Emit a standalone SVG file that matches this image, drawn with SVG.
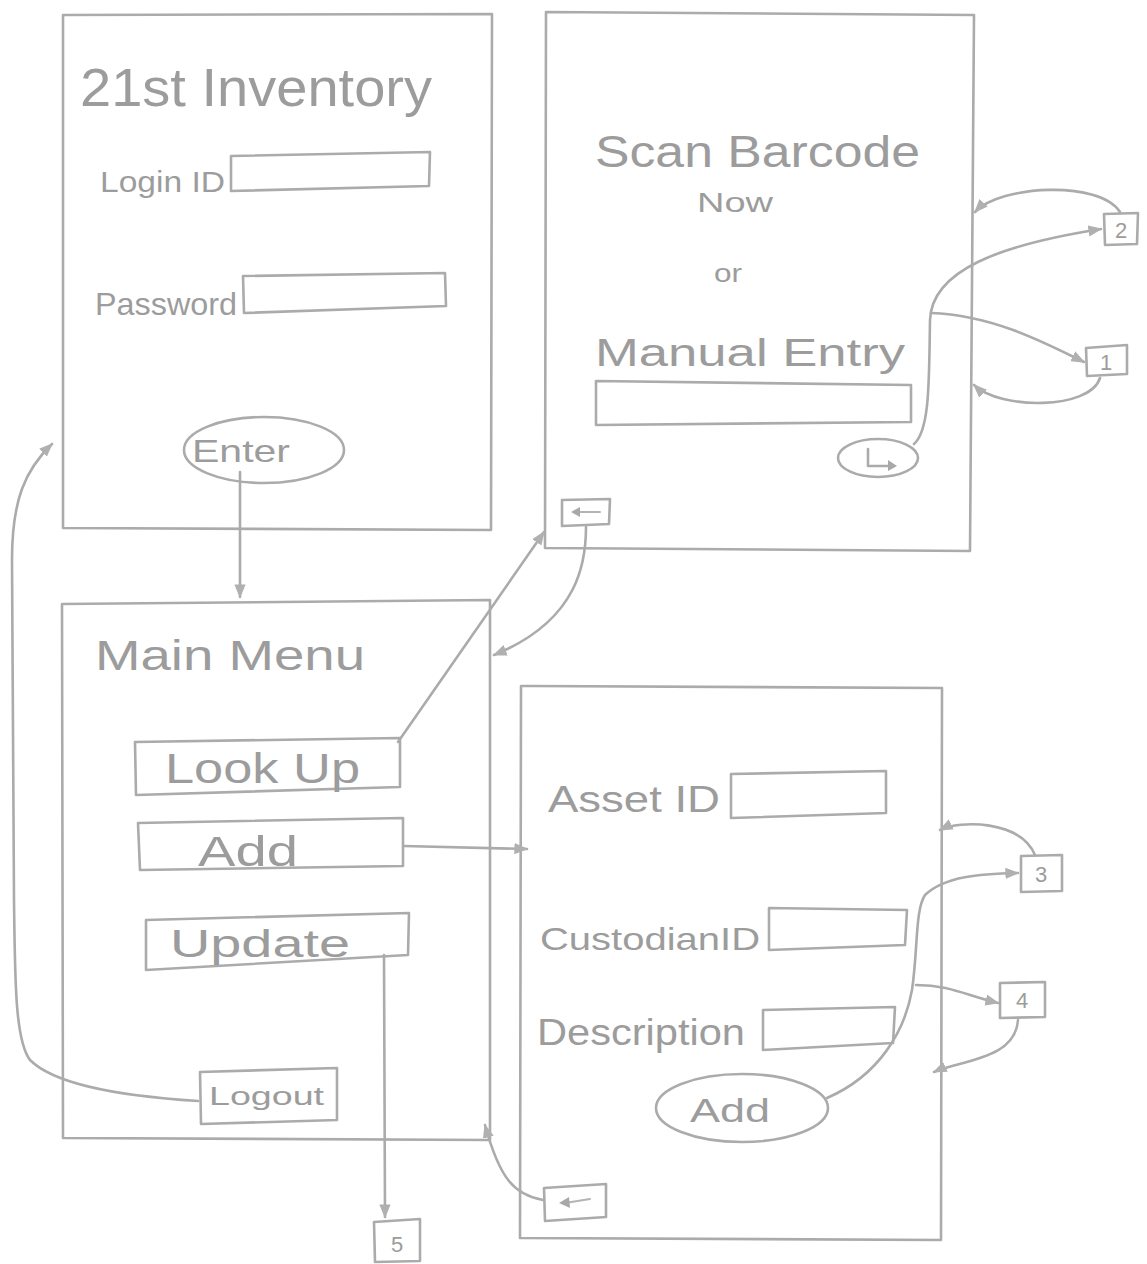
<svg xmlns="http://www.w3.org/2000/svg" width="1147" height="1264" viewBox="0 0 1147 1264">
<defs>
<style>
.ln{fill:none;stroke:#ababab;stroke-width:2.6;stroke-linecap:round;stroke-linejoin:round}
.thin{fill:none;stroke:#b4b4b4;stroke-width:2;stroke-linecap:round;stroke-linejoin:round}
.t{fill:#9c9c9c;font-family:"Liberation Sans","DejaVu Sans",sans-serif;font-weight:normal}
.num{fill:#9c9c9c;font-family:"Liberation Sans",sans-serif;font-size:22px;text-anchor:middle}
</style>
<marker id="ahb" viewBox="0 0 10 10" refX="9" refY="5" markerWidth="14" markerHeight="14" orient="auto" markerUnits="userSpaceOnUse">
<path d="M0,1 L10,5 L0,9 z" fill="#b0b0b0"/>
</marker>
</defs>
<rect width="1147" height="1264" fill="#ffffff"/>

<g id="login-screen">
<path class="ln" d="M63,15 L492,14 L491,530 L63,528 Z"/>
<text class="t" x="80" y="106" font-size="54" textLength="352" lengthAdjust="spacingAndGlyphs">21st Inventory</text>
<text class="t" x="100" y="192" font-size="30" textLength="125" lengthAdjust="spacingAndGlyphs">Login ID</text>
<path class="ln" d="M231,156 L430,152 L429,186 L231,191 Z"/>
<text class="t" x="95" y="315" font-size="32" textLength="142" lengthAdjust="spacingAndGlyphs">Password</text>
<path class="ln" d="M243,276 L445,273 L446,306 L244,313 Z"/>
<ellipse class="ln" cx="264" cy="450" rx="80" ry="33"/>
<text class="t" x="192" y="462" font-size="32" textLength="98" lengthAdjust="spacingAndGlyphs">Enter</text>
</g>

<g id="scan-screen">
<path class="ln" d="M546,12 L974,15 L970,551 L545,548 Z"/>
<text class="t" x="595" y="167" font-size="44" textLength="325" lengthAdjust="spacingAndGlyphs">Scan Barcode</text>
<text class="t" x="697" y="212" font-size="28" textLength="76" lengthAdjust="spacingAndGlyphs">Now</text>
<text class="t" x="714" y="282" font-size="26" textLength="28" lengthAdjust="spacingAndGlyphs">or</text>
<text class="t" x="595" y="366" font-size="38" textLength="310" lengthAdjust="spacingAndGlyphs">Manual Entry</text>
<path class="ln" d="M596,381 L911,385 L911,422 L596,425 Z"/>
<ellipse class="ln" cx="878" cy="458" rx="40" ry="19"/>
<path class="ln" d="M868,449 L868,466 L892,466"/>
<path d="M888,460 L897,466 L888,471 Z" fill="#a8a8a8"/>
<path class="ln" d="M562,500 L610,499 L609,524 L562,526 Z"/>
<path class="thin" d="M600,512 L576,512"/>
<path d="M580,507 L571,512 L580,517 Z" fill="#a8a8a8"/>
</g>

<g id="main-menu">
<path class="ln" d="M62,604 L490,600 L490,1140 L63,1138 Z"/>
<text class="t" x="95" y="670" font-size="42" textLength="270" lengthAdjust="spacingAndGlyphs">Main Menu</text>
<path class="ln" d="M135,742 L400,738 L400,787 L136,795 Z"/>
<text class="t" x="165" y="783" font-size="42" textLength="195" lengthAdjust="spacingAndGlyphs">Look Up</text>
<path class="ln" d="M138,823 L403,818 L403,866 L140,870 Z"/>
<text class="t" x="198" y="866" font-size="42" textLength="100" lengthAdjust="spacingAndGlyphs">Add</text>
<path class="ln" d="M146,920 L409,913 L408,955 L146,970 Z"/>
<text class="t" x="170" y="957" font-size="38" textLength="180" lengthAdjust="spacingAndGlyphs">Update</text>
<path class="ln" d="M200,1072 L337,1068 L337,1120 L201,1124 Z"/>
<text class="t" x="209" y="1105" font-size="26" textLength="115" lengthAdjust="spacingAndGlyphs">Logout</text>
</g>

<g id="add-screen">
<path class="ln" d="M531,686 L942,688 L941,1240 L520,1238 L521,686 Z"/>
<text class="t" x="548" y="812" font-size="36" textLength="172" lengthAdjust="spacingAndGlyphs">Asset ID</text>
<path class="ln" d="M731,774 L886,771 L886,813 L731,818 Z"/>
<text class="t" x="540" y="950" font-size="32" textLength="220" lengthAdjust="spacingAndGlyphs">CustodianID</text>
<path class="ln" d="M769,908 L907,910 L905,945 L769,950 Z"/>
<text class="t" x="537" y="1045" font-size="36" textLength="208" lengthAdjust="spacingAndGlyphs">Description</text>
<path class="ln" d="M763,1010 L895,1007 L893,1043 L763,1050 Z"/>
<ellipse class="ln" cx="742" cy="1108" rx="86" ry="34"/>
<text class="t" x="690" y="1122" font-size="34" textLength="80" lengthAdjust="spacingAndGlyphs">Add</text>
<path class="ln" d="M544,1188 L606,1184 L606,1217 L545,1221 Z"/>
<path class="thin" d="M590,1199 L565,1203"/>
<path d="M569,1197 L559,1203 L570,1208 Z" fill="#a8a8a8"/>
</g>

<g id="box-1"><path class="ln" d="M1086,348 L1127,345 L1127,374 L1087,376 Z"/><text class="num" x="1106" y="370">1</text></g>
<g id="box-2"><path class="ln" d="M1104,214 L1138,213 L1137,244 L1105,245 Z"/><text class="num" x="1121" y="238">2</text></g>
<g id="box-3"><path class="ln" d="M1021,856 L1062,855 L1062,891 L1021,892 Z"/><text class="num" x="1041" y="882">3</text></g>
<g id="box-4"><path class="ln" d="M1000,983 L1045,982 L1045,1017 L1000,1018 Z"/><text class="num" x="1022" y="1008">4</text></g>
<g id="box-5"><path class="ln" d="M374,1222 L420,1219 L420,1261 L375,1262 Z"/><text class="num" x="397" y="1252" font-size="26">5</text></g>

<g id="connectors">
<path class="ln" d="M240,472 L240,597" marker-end="url(#ahb)"/>
<path class="ln" d="M198,1101 C150,1098 60,1090 30,1060 C15,1040 15,980 14,900 L12,560 C12,500 25,470 52,444" marker-end="url(#ahb)"/>
<path class="ln" d="M398,742 L544,532" marker-end="url(#ahb)"/>
<path class="ln" d="M586,527 C586,560 580,620 494,655" marker-end="url(#ahb)"/>
<path class="ln" d="M404,846 L527,849" marker-end="url(#ahb)"/>
<path class="ln" d="M384,955 L385,1217" marker-end="url(#ahb)"/>
<path class="ln" d="M543,1200 C515,1195 500,1180 485,1125" marker-end="url(#ahb)"/>
<path class="ln" d="M914,444 C930,430 929,380 930,320 C932,270 1000,245 1101,229" marker-end="url(#ahb)"/>
<path class="ln" d="M931,313 C990,315 1040,340 1084,362" marker-end="url(#ahb)"/>
<path class="ln" d="M1120,212 C1100,180 1000,185 975,212" marker-end="url(#ahb)"/>
<path class="ln" d="M1100,378 C1090,410 1000,410 974,385" marker-end="url(#ahb)"/>
<path class="ln" d="M827,1098 C880,1075 905,1030 912,990 C918,950 915,910 925,895 C945,876 980,874 1018,873" marker-end="url(#ahb)"/>
<path class="ln" d="M916,985 C950,985 965,995 998,1003" marker-end="url(#ahb)"/>
<path class="ln" d="M1035,855 C1020,820 960,820 940,830" marker-end="url(#ahb)"/>
<path class="ln" d="M1018,1020 C1015,1060 960,1060 934,1072" marker-end="url(#ahb)"/>
</g>
</svg>
